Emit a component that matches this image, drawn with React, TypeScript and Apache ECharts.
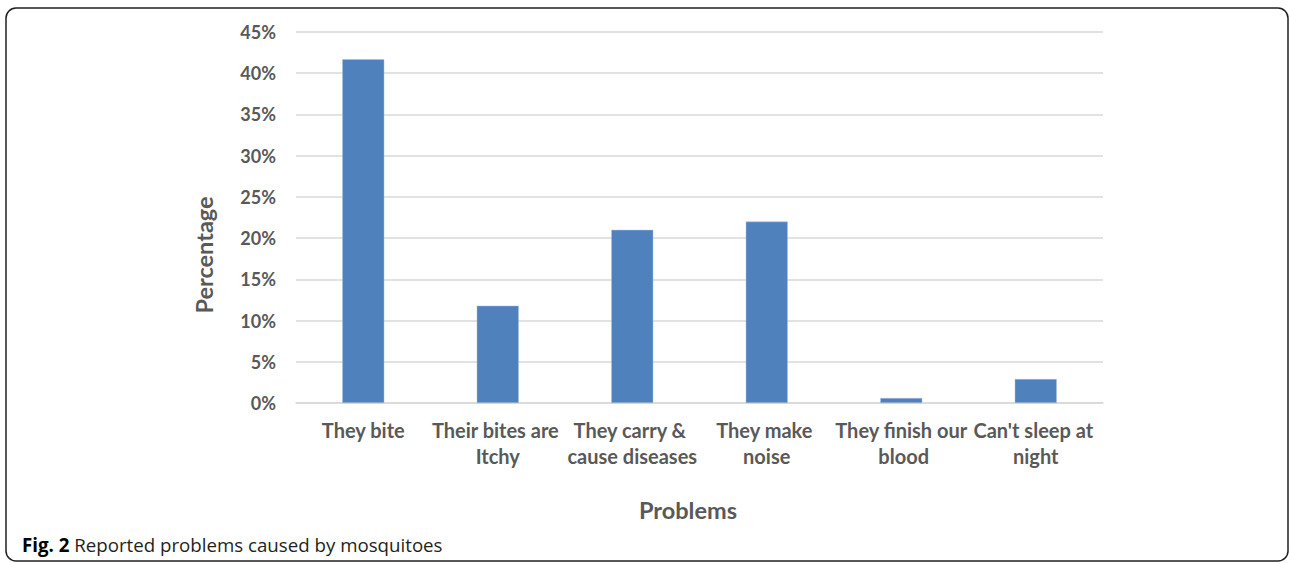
import React, { useEffect, useRef } from "react";
import * as echarts from "echarts";

const categories = [
  "They bite",
  "Their bites are Itchy",
  "They carry & cause diseases",
  "They make noise",
  "They finish our blood",
  "Can't sleep at night",
];
const percentages = [41.7, 11.8, 21.0, 22.0, 0.6, 2.9];
const yTicks = { min: 0, max: 45, interval: 5 };
const xTitle = "Problems";
const yTitle = "Percentage";
const captionLead = "Fig. 2";
const captionText = " Reported problems caused by mosquitoes";

const W = 1290;
const H = 563;
const labelColor = "#595959";
const font = "Lato, 'Open Sans', sans-serif";

export default function App() {
  const ref = useRef<HTMLDivElement>(null);

  useEffect(() => {
    if (!ref.current) return;
    const chart = echarts.init(ref.current, undefined, { renderer: "svg" });
    chart.setOption({
      animation: false,
      backgroundColor: "#ffffff",
      textStyle: { fontFamily: font },
      grid: { left: 296, right: 187, top: 32, bottom: 160, containLabel: false },
      xAxis: {
        type: "category",
        data: categories,
        axisLine: { show: true, lineStyle: { color: "#d9d9d9", width: 1.5 } },
        axisTick: { show: false },
        axisLabel: {
          interval: 0,
          color: labelColor,
          fontWeight: "bold",
          fontSize: 20,
          fontFamily: font,
          width: 134,
          overflow: "break",
          lineHeight: 26,
          margin: 14,
        },
      },
      yAxis: {
        type: "value",
        min: yTicks.min,
        max: yTicks.max,
        interval: yTicks.interval,
        axisLine: { show: false },
        axisTick: { show: false },
        splitLine: { lineStyle: { color: "#d9d9d9", width: 1.5 } },
        axisLabel: {
          color: labelColor,
          fontWeight: "bold",
          fontSize: 18,
          fontFamily: font,
          margin: 20,
          formatter: (v: number) => `${v}%`,
        },
      },
      series: [
        {
          type: "bar",
          data: percentages,
          barWidth: 42,
          itemStyle: { color: "#4f81bd", borderColor: "#a7c0de", borderWidth: 0.5 },
        },
      ],
      graphic: [
        {
          type: "rect",
          shape: { x: 6, y: 8, width: 1282, height: 553, r: 10 },
          style: { fill: "none", stroke: "#231f20", lineWidth: 1.5 },
          silent: true,
        },
        {
          type: "text",
          x: 204,
          y: 255,
          rotation: Math.PI / 2,
          style: {
            text: yTitle,
            fill: labelColor,
            font: `bold 23.5px ${font}`,
            align: "center",
            verticalAlign: "middle",
          },
        },
        {
          type: "text",
          x: 688,
          y: 510,
          style: {
            text: xTitle,
            fill: labelColor,
            font: `bold 23.5px ${font}`,
            align: "center",
            verticalAlign: "middle",
          },
        },
        {
          type: "text",
          x: 22,
          y: 544,
          style: {
            text: `{b|${captionLead}}{r|${captionText}}`,
            verticalAlign: "middle",
            rich: {
              b: { fontFamily: "'Open Sans', sans-serif", fontWeight: "bold", fontSize: 18.7, fill: "#000000" },
              r: { fontFamily: "'Open Sans', sans-serif", fontSize: 18.7, fill: "#231f20" },
            },
          },
        },
      ],
    });
    return () => chart.dispose();
  }, []);

  return (
    <div
      ref={ref}
      style={{ position: "fixed", left: 0, top: 0, width: W, height: H }}
    />
  );
}
